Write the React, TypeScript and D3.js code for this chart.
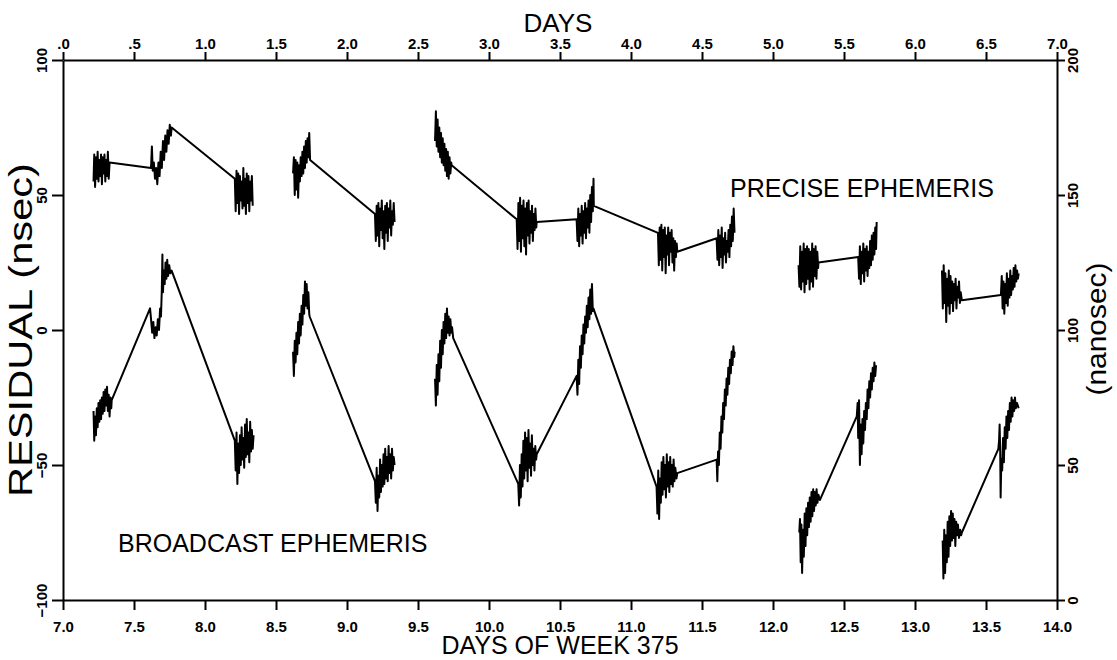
import React, { useEffect, useRef } from 'react'

import * as d3 from 'd3'

type Pt = [number, number]

// precise ephemeris residuals, [day of week, nsec], one array per unbroken run
const precise1: Pt[] = [
  [7.215, 55], [7.22, 65], [7.226, 53], [7.232, 64], [7.238, 56], [7.244, 66], [7.25, 55], [7.256, 63],
  [7.262, 57], [7.268, 65], [7.274, 54], [7.28, 64], [7.286, 58], [7.292, 65], [7.298, 55], [7.304, 63],
  [7.31, 57], [7.316, 66], [7.322, 56], [7.328, 62],
  [7.62, 60], [7.626, 68], [7.632, 59], [7.64, 62], [7.648, 56], [7.656, 60], [7.664, 54], [7.672, 62],
  [7.68, 57], [7.688, 66], [7.696, 60], [7.704, 70], [7.712, 63], [7.72, 72], [7.728, 66], [7.736, 74],
  [7.744, 69], [7.752, 76], [7.76, 72], [7.765, 75],
  [8.21, 56], [8.216, 44], [8.222, 59], [8.228, 47], [8.234, 58], [8.24, 43], [8.246, 57], [8.252, 48],
  [8.258, 55], [8.264, 45], [8.27, 60], [8.276, 46], [8.282, 56], [8.288, 43], [8.294, 58], [8.3, 47],
  [8.306, 57], [8.312, 44], [8.318, 55], [8.324, 48], [8.33, 57], [8.336, 46],
]
const precise2: Pt[] = [
  [8.62, 58], [8.626, 64], [8.632, 50], [8.638, 63], [8.644, 52], [8.65, 62], [8.656, 49], [8.662, 61],
  [8.668, 55], [8.674, 64], [8.68, 57], [8.686, 66], [8.692, 58], [8.698, 68], [8.704, 60], [8.71, 70],
  [8.716, 62], [8.722, 71], [8.728, 64], [8.734, 73], [8.74, 63],
  [9.197, 43], [9.203, 33], [9.209, 46], [9.215, 35], [9.221, 47], [9.227, 31], [9.233, 45], [9.239, 37],
  [9.245, 48], [9.251, 34], [9.257, 44], [9.263, 30], [9.269, 46], [9.275, 36], [9.281, 47], [9.287, 33],
  [9.293, 45], [9.299, 38], [9.305, 48], [9.311, 35], [9.317, 44], [9.323, 39], [9.329, 47], [9.335, 40],
]
const precise3: Pt[] = [
  [9.62, 70], [9.626, 81], [9.632, 68], [9.638, 78], [9.644, 66], [9.65, 75], [9.656, 64], [9.662, 73],
  [9.668, 62], [9.674, 71], [9.68, 61], [9.686, 69], [9.692, 59], [9.698, 67], [9.704, 57], [9.71, 66],
  [9.716, 56], [9.722, 64], [9.728, 58], [9.734, 62], [9.737, 61],
  [10.195, 41], [10.201, 30], [10.207, 47], [10.213, 33], [10.219, 49], [10.225, 29], [10.231, 46],
  [10.237, 34], [10.243, 48], [10.249, 31], [10.255, 45], [10.261, 28], [10.267, 47], [10.273, 35],
  [10.279, 48], [10.285, 32], [10.291, 44], [10.297, 36], [10.303, 46], [10.309, 33], [10.315, 43],
  [10.321, 37], [10.327, 45], [10.333, 38], [10.336, 40],
  [10.617, 41], [10.623, 33], [10.629, 45], [10.635, 31], [10.641, 43], [10.647, 35], [10.653, 46],
  [10.659, 32], [10.665, 44], [10.671, 36], [10.677, 47], [10.683, 34], [10.689, 45], [10.695, 38],
  [10.701, 48], [10.707, 36], [10.713, 50], [10.719, 40], [10.725, 53], [10.731, 44], [10.736, 56], [10.738, 46],
  [11.19, 36], [11.196, 24], [11.202, 38], [11.208, 26], [11.214, 39], [11.22, 22], [11.226, 37], [11.232, 27],
  [11.238, 38], [11.244, 21], [11.25, 35], [11.256, 28], [11.262, 38], [11.268, 24], [11.274, 36], [11.28, 29],
  [11.286, 37], [11.292, 25], [11.298, 34], [11.304, 22], [11.31, 33], [11.316, 27], [11.322, 32], [11.326, 29],
  [11.603, 34], [11.609, 26], [11.615, 37], [11.621, 24], [11.627, 35], [11.633, 27], [11.639, 38], [11.645, 23],
  [11.651, 34], [11.657, 28], [11.663, 36], [11.669, 25], [11.675, 33], [11.681, 29], [11.687, 37], [11.693, 27],
  [11.699, 39], [11.705, 31], [11.711, 42], [11.717, 33], [11.723, 45], [11.729, 36],
]
const precise4: Pt[] = [
  [12.18, 24], [12.186, 16], [12.192, 31], [12.198, 15], [12.204, 29], [12.21, 18], [12.216, 32], [12.222, 14],
  [12.228, 30], [12.234, 17], [12.24, 31], [12.246, 19], [12.252, 30], [12.258, 15], [12.264, 29], [12.27, 18],
  [12.276, 32], [12.282, 16], [12.288, 30], [12.294, 20], [12.3, 31], [12.306, 19], [12.312, 29], [12.318, 23],
  [12.32, 25],
  [12.6, 27], [12.606, 19], [12.612, 31], [12.618, 17], [12.624, 29], [12.63, 21], [12.636, 32], [12.642, 18],
  [12.648, 30], [12.654, 22], [12.66, 31], [12.666, 20], [12.672, 29], [12.678, 23], [12.684, 33], [12.69, 24],
  [12.696, 35], [12.702, 26], [12.708, 36], [12.714, 28], [12.72, 38], [12.726, 30], [12.73, 40],
]
const precise5: Pt[] = [
  [13.19, 22], [13.196, 8], [13.202, 24], [13.208, 10], [13.214, 21], [13.22, 3], [13.226, 19], [13.232, 9],
  [13.238, 22], [13.244, 6], [13.25, 20], [13.256, 10], [13.262, 18], [13.268, 7], [13.274, 17], [13.28, 11],
  [13.286, 19], [13.292, 8], [13.298, 16], [13.304, 12], [13.31, 18], [13.316, 10], [13.322, 14], [13.33, 11],
  [13.605, 13], [13.611, 20], [13.617, 8], [13.623, 18], [13.629, 6], [13.635, 17], [13.641, 10], [13.647, 21],
  [13.653, 9], [13.659, 19], [13.665, 12], [13.671, 22], [13.677, 13], [13.683, 20], [13.689, 15], [13.695, 23],
  [13.701, 16], [13.707, 24], [13.713, 18], [13.719, 22], [13.725, 19], [13.73, 21],
]

// broadcast ephemeris residuals
const broadcast1: Pt[] = [
  [7.215, -30], [7.22, -41], [7.226, -32], [7.232, -39], [7.238, -29], [7.244, -36], [7.25, -27], [7.256, -34],
  [7.262, -26], [7.268, -33], [7.274, -25], [7.28, -31], [7.286, -23], [7.292, -30], [7.298, -22], [7.304, -28],
  [7.31, -21], [7.316, -30], [7.322, -24], [7.328, -32], [7.334, -25], [7.34, -29], [7.343, -26],
  [7.613, 8], [7.62, 4], [7.628, -1], [7.636, 3], [7.644, -3], [7.652, 1], [7.66, -2], [7.668, 4],
  [7.676, 0], [7.684, 8], [7.69, 5], [7.696, 15], [7.7, 28], [7.704, 14], [7.71, 22], [7.716, 17],
  [7.722, 25], [7.728, 19], [7.734, 26], [7.74, 20], [7.748, 24], [7.756, 21], [7.765, 22],
  [8.21, -41], [8.216, -52], [8.222, -38], [8.228, -57], [8.234, -42], [8.24, -53], [8.246, -39], [8.252, -50],
  [8.258, -36], [8.264, -48], [8.27, -40], [8.276, -51], [8.282, -35], [8.288, -47], [8.294, -33], [8.3, -46],
  [8.306, -38], [8.312, -49], [8.318, -34], [8.324, -45], [8.33, -37], [8.336, -44], [8.342, -39],
]
const broadcast2: Pt[] = [
  [8.62, -8], [8.626, -17], [8.632, -4], [8.638, -12], [8.644, -1], [8.65, -9], [8.656, 3], [8.662, -5],
  [8.668, 6], [8.674, -2], [8.68, 9], [8.686, 2], [8.692, 13], [8.698, 6], [8.704, 18], [8.71, 9],
  [8.716, 17], [8.722, 8], [8.728, 14], [8.734, 6], [8.737, 5],
  [9.197, -56], [9.203, -64], [9.209, -51], [9.215, -67], [9.221, -54], [9.227, -62], [9.233, -48], [9.239, -60],
  [9.245, -50], [9.251, -58], [9.257, -46], [9.263, -57], [9.269, -44], [9.275, -55], [9.281, -47], [9.287, -56],
  [9.293, -43], [9.299, -53], [9.305, -46], [9.311, -55], [9.317, -44], [9.323, -52], [9.329, -47], [9.335, -50],
]
const broadcast3: Pt[] = [
  [9.62, -18], [9.626, -28], [9.632, -13], [9.638, -24], [9.644, -9], [9.65, -19], [9.656, -4], [9.662, -14],
  [9.668, 0], [9.674, -9], [9.68, 3], [9.686, -5], [9.692, 6], [9.698, -3], [9.704, 8], [9.71, -1],
  [9.716, 5], [9.722, -2], [9.728, 4], [9.734, -1], [9.74, 1], [9.748, -3],
  [10.206, -57], [10.212, -65], [10.218, -50], [10.224, -62], [10.23, -46], [10.236, -58], [10.242, -41],
  [10.248, -55], [10.254, -38], [10.26, -52], [10.266, -40], [10.272, -56], [10.278, -37], [10.284, -51],
  [10.29, -42], [10.296, -54], [10.302, -39], [10.308, -50], [10.314, -44], [10.32, -52], [10.326, -43],
  [10.332, -48], [10.336, -46],
  [10.617, -17], [10.623, -24], [10.629, -11], [10.635, -20], [10.641, -6], [10.647, -14], [10.653, -2],
  [10.659, -9], [10.665, 2], [10.671, -5], [10.677, 5], [10.683, -1], [10.689, 9], [10.695, 1], [10.701, 12],
  [10.707, 4], [10.713, 15], [10.719, 6], [10.725, 17], [10.731, 7], [10.735, 8],
  [11.18, -58], [11.186, -68], [11.192, -52], [11.198, -70], [11.204, -55], [11.21, -64], [11.216, -49],
  [11.222, -61], [11.228, -47], [11.234, -59], [11.24, -50], [11.246, -62], [11.252, -46], [11.258, -58],
  [11.264, -49], [11.27, -60], [11.276, -47], [11.282, -57], [11.288, -50], [11.294, -58], [11.3, -48],
  [11.306, -56], [11.312, -51], [11.32, -55], [11.326, -53],
  [11.603, -48], [11.608, -56], [11.613, -45], [11.619, -50], [11.625, -38], [11.631, -44], [11.637, -32],
  [11.643, -38], [11.649, -27], [11.655, -33], [11.661, -22], [11.667, -28], [11.673, -18], [11.679, -24],
  [11.685, -14], [11.691, -20], [11.697, -11], [11.703, -16], [11.709, -8], [11.715, -13], [11.721, -6],
  [11.727, -10], [11.73, -8],
]
const broadcast4: Pt[] = [
  [12.185, -75], [12.19, -70], [12.195, -86], [12.2, -72], [12.205, -90], [12.211, -74], [12.217, -84],
  [12.223, -68], [12.229, -80], [12.235, -66], [12.241, -76], [12.247, -64], [12.253, -73], [12.259, -62],
  [12.265, -71], [12.271, -60], [12.277, -69], [12.283, -59], [12.289, -67], [12.295, -60], [12.301, -65],
  [12.307, -59], [12.313, -64], [12.32, -61], [12.33, -63],
  [12.59, -32], [12.596, -27], [12.6, -40], [12.606, -26], [12.612, -50], [12.618, -35], [12.624, -46],
  [12.63, -33], [12.636, -42], [12.642, -30], [12.648, -37], [12.654, -27], [12.66, -33], [12.666, -22],
  [12.672, -29], [12.678, -19], [12.684, -25], [12.69, -16], [12.696, -22], [12.702, -14], [12.708, -19],
  [12.714, -12], [12.72, -17], [12.726, -13],
]
const broadcast5: Pt[] = [
  [13.195, -78], [13.2, -92], [13.206, -74], [13.212, -90], [13.218, -76], [13.224, -86], [13.23, -71],
  [13.236, -84], [13.242, -69], [13.248, -80], [13.254, -67], [13.26, -78], [13.266, -68], [13.272, -77],
  [13.278, -70], [13.284, -80], [13.29, -71], [13.296, -76], [13.302, -72], [13.31, -77], [13.318, -74],
  [13.325, -76], [13.33, -75],
  [13.587, -44], [13.592, -41], [13.596, -35], [13.6, -45], [13.603, -62], [13.608, -48], [13.614, -52],
  [13.62, -40], [13.626, -49], [13.632, -36], [13.638, -44], [13.644, -32], [13.65, -40], [13.656, -30],
  [13.662, -37], [13.668, -27], [13.674, -34], [13.68, -25], [13.686, -32], [13.692, -26], [13.698, -30],
  [13.704, -25], [13.71, -29], [13.718, -27], [13.73, -29],
]

const runs = [precise1, precise2, precise3, precise4, precise5, broadcast1, broadcast2, broadcast3, broadcast4, broadcast5]

// axis ticks and their printed labels
const weekTicks = [7, 7.5, 8, 8.5, 9, 9.5, 10, 10.5, 11, 11.5, 12, 12.5, 13, 13.5, 14]
const weekLabels = ['7.0', '7.5', '8.0', '8.5', '9.0', '9.5', '10.0', '10.5', '11.0', '11.5', '12.0', '12.5', '13.0', '13.5', '14.0']
const dayTicks = [0, 0.5, 1, 1.5, 2, 2.5, 3, 3.5, 4, 4.5, 5, 5.5, 6, 6.5, 7]
const dayLabels = ['.0', '.5', '1.0', '1.5', '2.0', '2.5', '3.0', '3.5', '4.0', '4.5', '5.0', '5.5', '6.0', '6.5', '7.0']
const nsecTicks = [100, 50, 0, -50, -100]
const nanosecTicks = [200, 150, 100, 50, 0]

const App: React.FC = () => {
  const ref = useRef<SVGSVGElement | null>(null)

  useEffect(() => {
    const W = 1117
    const H = 660
    const left = 63
    const right = 1057
    const top = 60
    const bottom = 600

    const svg = d3.select(ref.current)
    svg.selectAll('*').remove()
    svg.attr('width', W).attr('height', H)

    const x = d3.scaleLinear().domain([7, 14]).range([left, right])
    const xTop = d3.scaleLinear().domain([0, 7]).range([left, right])
    const y = d3.scaleLinear().domain([-100, 100]).range([bottom, top])
    const yRight = d3.scaleLinear().domain([0, 200]).range([bottom, top])

    const tickFont = (g: any) =>
      g.selectAll('text')
        .attr('font-family', 'Liberation Sans, Arial, sans-serif')
        .attr('font-weight', 'bold')
        .attr('font-size', 15)
        .attr('fill', '#000')

    const styleAxis = (g: any) => {
      g.select('.domain').attr('stroke', '#000').attr('stroke-width', 2)
      g.selectAll('.tick line').attr('stroke', '#000').attr('stroke-width', 2)
    }

    // bottom axis
    svg.append('g')
      .attr('transform', `translate(0,${bottom})`)
      .call(d3.axisBottom(x).tickValues(weekTicks).tickFormat((_d, i) => weekLabels[i]).tickSize(10).tickSizeOuter(0).tickPadding(11))
      .call(styleAxis)
      .call(tickFont)

    // top axis
    svg.append('g')
      .attr('transform', `translate(0,${top})`)
      .call(d3.axisTop(xTop).tickValues(dayTicks).tickFormat((_d, i) => dayLabels[i]).tickSize(8).tickSizeOuter(0).tickPadding(3))
      .call(styleAxis)
      .call(tickFont)

    // left axis, labels turned on their side
    svg.append('g')
      .attr('transform', `translate(${left},0)`)
      .call(d3.axisLeft(y).tickValues(nsecTicks).tickFormat(d3.format('d')).tickSize(11).tickSizeOuter(0))
      .call(styleAxis)
      .call(tickFont)
      .call((g: any) =>
        g.selectAll('.tick text')
          .attr('x', null).attr('dy', null)
          .attr('text-anchor', 'middle')
          .attr('transform', 'translate(-16,0) rotate(-90)'))

    // right axis
    svg.append('g')
      .attr('transform', `translate(${right},0)`)
      .call(d3.axisRight(yRight).tickValues(nanosecTicks).tickFormat(d3.format('d')).tickSize(8).tickSizeOuter(0))
      .call(styleAxis)
      .call(tickFont)
      .call((g: any) =>
        g.selectAll('.tick text')
          .attr('x', null).attr('dy', null)
          .attr('text-anchor', 'middle')
          .attr('transform', 'translate(21,0) rotate(-90)'))

    // data runs
    const line = d3.line<Pt>().x((d) => x(d[0])).y((d) => y(d[1]))
    svg.append('g')
      .selectAll('path')
      .data(runs)
      .enter()
      .append('path')
      .attr('d', (d) => line(d))
      .attr('fill', 'none')
      .attr('stroke', '#000')
      .attr('stroke-width', 2)
      .attr('stroke-linejoin', 'round')

    const font = 'Liberation Sans, Arial, Helvetica, sans-serif'
    const label = (txt: string, tx: number, ty: number, size: number, rot = 0, len = 0) => {
      const t = svg.append('text')
        .attr('transform', `translate(${tx},${ty}) rotate(${rot})`)
        .attr('text-anchor', 'middle')
        .attr('font-family', font)
        .attr('font-size', size)
        .attr('fill', '#000')
        .text(txt)
      if (len) t.attr('textLength', len).attr('lengthAdjust', 'spacingAndGlyphs')
      return t
    }

    label('DAYS', 558, 32, 26)
    label('DAYS OF WEEK 375', 560, 654, 25)
    label('RESIDUAL (nsec)', 32, 330, 33, -90, 334)
    label('(nanosec)', 1106, 329, 27, -90, 133)

    svg.append('text')
      .attr('x', 730).attr('y', 197)
      .attr('font-family', font).attr('font-size', 25).attr('fill', '#000')
      .text('PRECISE EPHEMERIS')
    svg.append('text')
      .attr('x', 118).attr('y', 552)
      .attr('font-family', font).attr('font-size', 25).attr('fill', '#000')
      .text('BROADCAST EPHEMERIS')
  }, [])

  return <svg ref={ref} style={{ position: 'absolute', left: 0, top: 0, background: '#fff' }}></svg>
}

export default App
